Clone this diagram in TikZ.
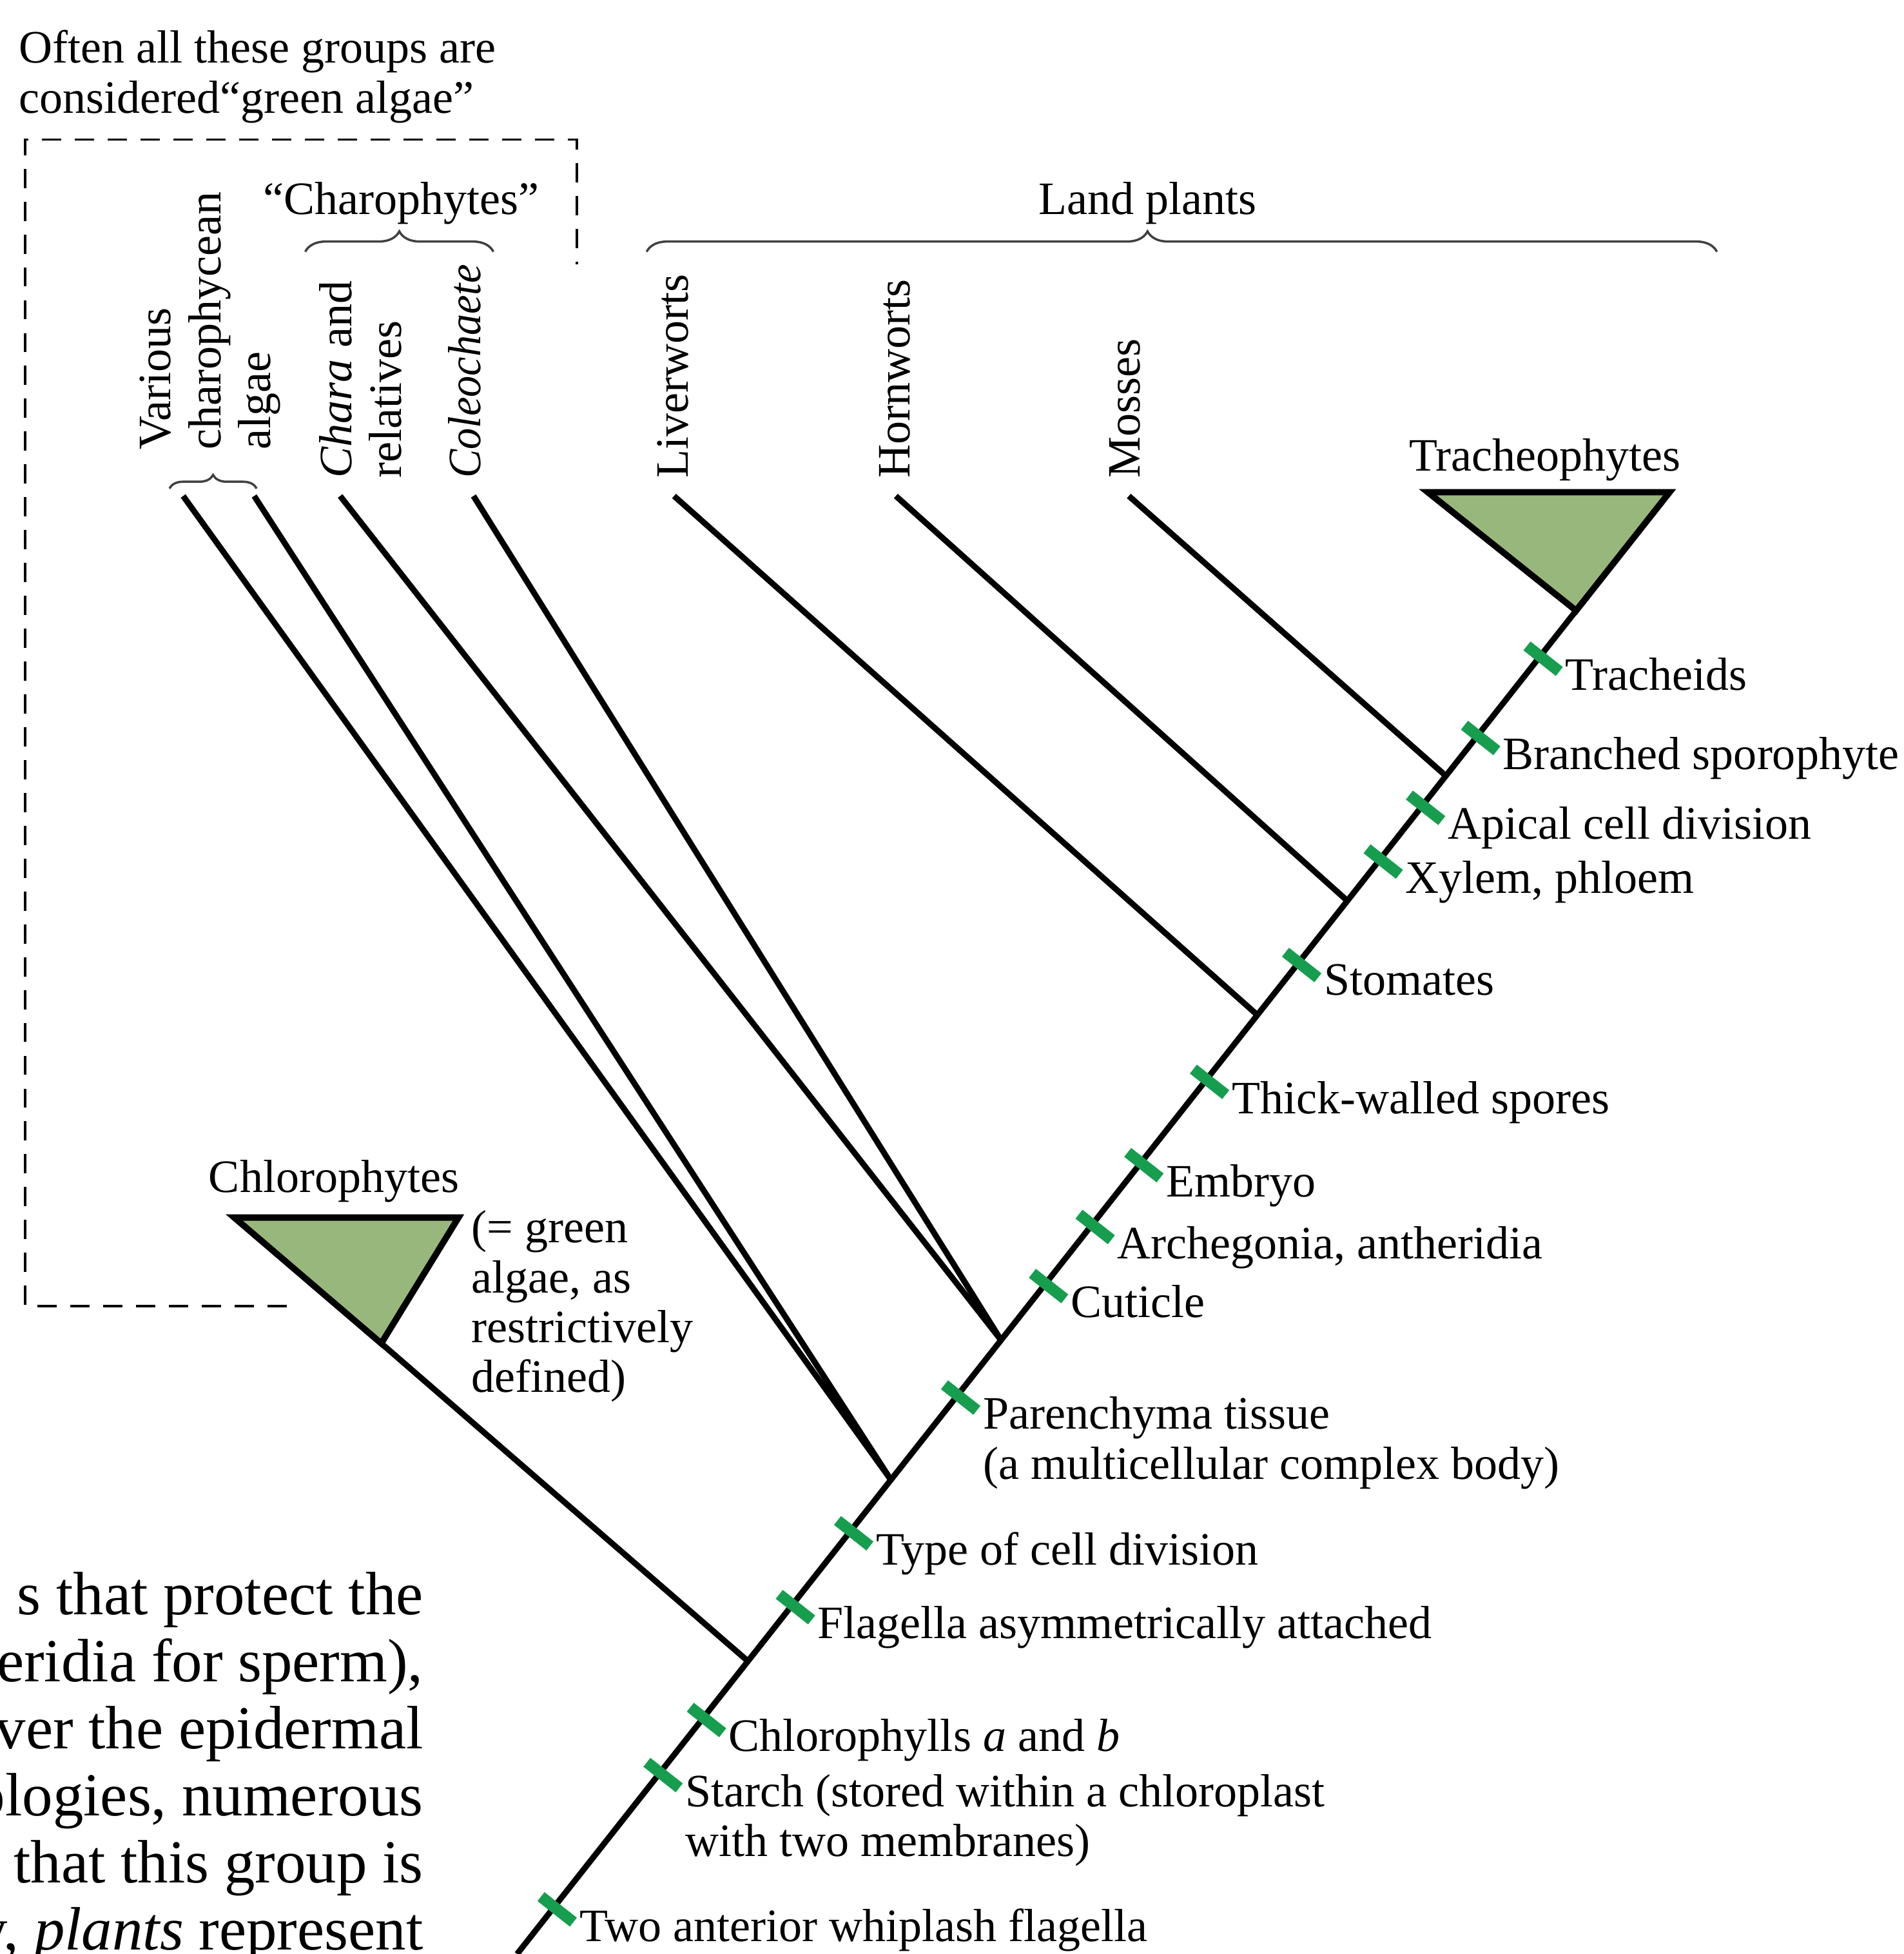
\documentclass[tikz,border=0pt]{standalone}
\usepackage{fontspec}
\setmainfont{Liberation Serif}
\usepackage{xcolor}
\usetikzlibrary{calc,decorations.pathreplacing}

\definecolor{cladefill}{RGB}{152,183,124}
\definecolor{markgreen}{RGB}{22,158,78}

\begin{document}
\begin{tikzpicture}[
    x=0.01933cm, y=-0.01933cm,
    font=\fontsize{20.5}{22}\selectfont,
    branch/.style={line width=2.6pt},
    clade/.style={line width=2.8pt, fill=cladefill, line join=miter},
    synapo/.style={line width=5pt, markgreen},
    trait/.style={anchor=north west, inner sep=0pt, align=left},
    taxon/.style={rotate=90, anchor=west, inner sep=0pt},
    multitaxon/.style={rotate=90, anchor=north west, inner sep=0pt, align=left},
    grouplabel/.style={anchor=base, inner sep=0pt},
    groupbrace/.style={decorate, decoration={brace, amplitude=#1}, line width=1pt, black!75},
    groupbox/.style={line width=1.1pt, dash pattern=on 8.5pt off 6pt}
]
    \useasboundingbox (0,0) rectangle (1528,1568);

    % "green algae" note and dashed box
    \node[anchor=north west, inner sep=0pt, align=left] (note) at (15,24)
        {Often all these groups are\\considered“green algae”};
    \draw[groupbox] (230,1048) -- (20,1048) -- (20,112) -- (463,112) -- (463,212);

    % main trunk
    \coordinate (root) at (415,1568);
    \coordinate (tip) at (1265,490);
    \draw[branch] (root) -- (tip);

    % branching points on the trunk
    \coordinate (nchloro) at ($(root)!0.218!(tip)$);
    \coordinate (ncharo) at ($(root)!0.353!(tip)$);
    \coordinate (nchara) at ($(root)!0.457!(tip)$);
    \coordinate (nliver) at ($(root)!0.699!(tip)$);
    \coordinate (nhorn) at ($(root)!0.784!(tip)$);
    \coordinate (nmoss) at ($(root)!0.877!(tip)$);

    % branch tips
    \coordinate (various1) at (147,398);
    \coordinate (various2) at (204,398);
    \coordinate (chara) at (273,398);
    \coordinate (coleo) at (380,398);
    \coordinate (liver) at (541,398);
    \coordinate (horn) at (719,398);
    \coordinate (moss) at (906,398);

    \draw[branch] (various1) -- (ncharo);
    \draw[branch] (various2) -- (ncharo);
    \draw[branch] (chara) -- (nchara);
    \draw[branch] (coleo) -- (nchara);
    \draw[branch] (liver) -- (nliver);
    \draw[branch] (horn) -- (nhorn);
    \draw[branch] (moss) -- (nmoss);

    % collapsed clades
    \coordinate (chlorotip) at (306,1078);
    \draw[clade] (188,977) -- (368,977) -- (chlorotip) -- cycle;
    \draw[branch] (chlorotip) -- (nchloro);
    \draw[clade] (1146,395) -- (1340,395) -- (tip) -- cycle;

    % taxon labels
    \node[multitaxon] (various) at (112,361) {Various\\charophycean\\algae};
    \node[multitaxon] (charalbl) at (256,384) {\textit{Chara} and\\relatives};
    \node[taxon] (coleolbl) at (373,384) {\scalebox{0.92}[1]{\textit{Coleochaete}}};
    \node[taxon] (liverlbl) at (540,384) {Liverworts};
    \node[taxon] (hornlbl) at (718,384) {Hornworts};
    \node[taxon] (mosslbl) at (903,384) {Mosses};
    \node[grouplabel] (trachlbl) at (1240,378) {Tracheophytes};
    \node[grouplabel] (chlorolbl) at (268,957) {Chlorophytes};
    \node[anchor=north west, inner sep=0pt, align=left] (greenlbl) at (378,971)
        {(= green\\algae, as\\restrictively\\defined)};

    % group braces
    \draw[groupbrace=6pt] (136,392) -- (206,392);
    \draw[groupbrace=9pt] (245,202) -- (396,202);
    \node[grouplabel] (charophytes) at (322,172) {“Charophytes”};
    \draw[groupbrace=9pt, decoration={aspect=0.468}] (519,202) -- (1378,202);
    \node[grouplabel] (landplants) at (921,172) {Land plants};

    % synapomorphies along the trunk
    \foreach \f/\nm/\txt in {
        0.035/whip/{Two anterior whiplash flagella},
        0.135/starch/{Starch (stored within a chloroplast\\with two membranes)},
        0.176/chlph/{Chlorophylls \textit{a} and \textit{b}},
        0.260/flag/{Flagella asymmetrically attached},
        0.315/celldiv/{Type of cell division},
        0.416/paren/{Parenchyma tissue\\(a multicellular complex body)},
        0.499/cut/{Cuticle},
        0.543/arch/{Archegonia, antheridia},
        0.589/emb/{Embryo},
        0.651/spor/{Thick-walled spores},
        0.738/stom/{Stomates},
        0.815/xyl/{Xylem, phloem},
        0.855/apic/{Apical cell division},
        0.907/bran/{Branched sporophyte},
        0.966/trach/{Tracheids}} {
        \coordinate (\nm) at ($(root)!\f!(tip)$);
        \draw[synapo] ($(\nm)!0.26cm!90:(tip)$) -- ($(\nm)!0.38cm!-90:(tip)$);
        \node[trait] (\nm-lbl) at ($(\nm)+(20,1)$) {\txt};
    }

    % running text of the page
    \node[anchor=north east, inner sep=0pt, align=right, font=\fontsize{27}{29.6}\selectfont]
        (pagetext) at (340,1261)
        {s that protect the\\heridia for sperm),\\ver the epidermal\\ologies, numerous\\that this group is\\ay, \textit{plants} represent};

\end{tikzpicture}
\end{document}
